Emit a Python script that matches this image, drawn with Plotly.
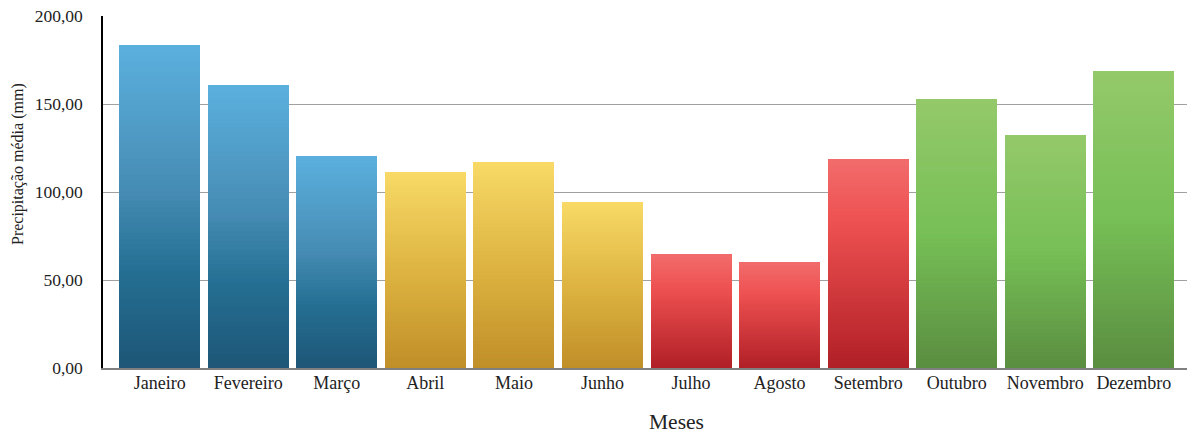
import plotly.graph_objects as go

meses = ["Janeiro", "Fevereiro", "Março", "Abril", "Maio", "Junho",
         "Julho", "Agosto", "Setembro", "Outubro", "Novembro", "Dezembro"]
precipitacao = [183.5, 160.8, 120.5, 111.4, 117.0, 94.3,
                64.8, 60.2, 118.8, 152.8, 132.4, 168.8]
estacao = ["azul", "azul", "azul", "amarelo", "amarelo", "amarelo",
           "vermelho", "vermelho", "vermelho", "verde", "verde", "verde"]

# gradient stops (fraction from top, rgb)
gradientes = {
    "azul": [(0.0, (91, 176, 222)), (0.45, (70, 140, 180)), (0.7, (36, 111, 147)), (1.0, (30, 86, 118))],
    "amarelo": [(0.0, (248, 218, 103)), (0.5, (222, 180, 65)), (1.0, (192, 143, 40))],
    "vermelho": [(0.0, (242, 108, 108)), (0.3, (238, 81, 81)), (1.0, (176, 31, 38))],
    "verde": [(0.0, (149, 201, 106)), (0.5, (118, 191, 86)), (1.0, (90, 141, 64))],
}


def cor(stops, t):
    for (t0, c0), (t1, c1) in zip(stops[:-1], stops[1:]):
        if t0 <= t <= t1:
            f = (t - t0) / (t1 - t0) if t1 > t0 else 0
            return "rgb(%d,%d,%d)" % tuple(round(a + (b - a) * f) for a, b in zip(c0, c1))
    return "rgb(%d,%d,%d)" % stops[-1][1]


N = 60
fig = go.Figure()
for k in range(N):
    frac = (N - k) / N
    t = (k + 0.5) / N
    fig.add_trace(go.Bar(
        x=meses,
        y=[v * frac for v in precipitacao],
        marker=dict(color=[cor(gradientes[e], t) for e in estacao], line=dict(width=0)),
        showlegend=False,
        hoverinfo="skip" if k > 0 else None,
    ))

FONT = "Liberation Serif"
fig.update_layout(
    barmode="overlay",
    bargap=0.085,
    width=1190, height=434,
    margin=dict(l=103, r=3, t=16, b=66),
    paper_bgcolor="white", plot_bgcolor="white",
    separators=",.",
    font=dict(family=FONT, size=16, color="#222"),
    xaxis=dict(
        range=[-0.64, 11.6],
        showgrid=False,
        showline=True, linecolor="#808080", linewidth=2,
        ticks="", tickfont=dict(size=18, family=FONT, color="#222"),
        ticklabelstandoff=-3,
    ),
    yaxis=dict(
        range=[0, 200], tickvals=[0, 50, 100, 150, 200],
        tickformat=".2f",
        showgrid=True, gridcolor="#A0A0A0", gridwidth=1,
        showline=True, linecolor="#000000", linewidth=1.5,
        ticks="", tickfont=dict(size=17.5, family=FONT, color="#222"),
        ticklabelstandoff=15,
        zeroline=False,
    ),
    annotations=[
        dict(text="Meses", xref="paper", yref="paper",
             x=(676 - 103) / (1190 - 106), y=-(422 - 368) / 352,
             xanchor="center", yanchor="middle", showarrow=False,
             font=dict(size=21.5, family=FONT, color="#222")),
        dict(text="Precipitação média (mm)", xref="paper", yref="paper",
             x=-(103 - 18) / (1190 - 106), y=(368 - 164) / 352,
             xanchor="center", yanchor="middle", showarrow=False, textangle=-90,
             font=dict(size=16, family=FONT, color="#222")),
    ],
)

post = """
document.querySelectorAll('.bars path').forEach(function(p){ p.style.shapeRendering = 'crispEdges'; });
"""
fig.write_html("out.html", post_script=post)
